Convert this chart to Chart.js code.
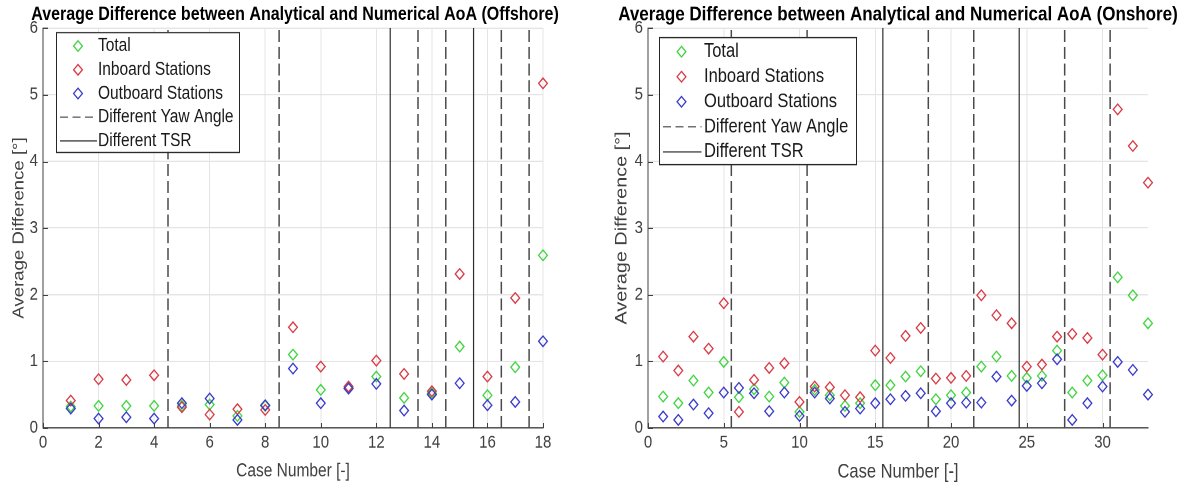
<!DOCTYPE html>
<html>
<head>
<meta charset="utf-8">
<script src="https://cdn.jsdelivr.net/npm/chart.js@4.4.1/dist/chart.umd.min.js"></script>
<style>
  html, body { margin: 0; padding: 0; background: #fff; }
  body { width: 1192px; height: 489px; position: relative; overflow: hidden; }
  /* the source figure is stretched vertically, so each panel is drawn at 408px and scaled up */
  .panel { position: absolute; top: 0; height: 408px; transform-origin: 0 0; transform: scaleY(1.1985); }
  #left { left: 0; width: 590px; }
  #right { left: 590px; width: 602px; }
</style>
</head>
<body>
<div class="panel" id="left"><canvas id="offshore"></canvas></div>
<div class="panel" id="right"><canvas id="onshore"></canvas></div>
<script>
// values
const offCases = [1, 2, 3, 4, 5, 6, 7, 8, 9, 10, 11, 12, 13, 14, 15, 16, 17, 18];
const offTotal = [0.32, 0.33, 0.33, 0.33, 0.33, 0.35, 0.18, 0.33, 1.10, 0.57, 0.60, 0.77, 0.45, 0.52, 1.22, 0.49, 0.91, 2.59];
const offInboard = [0.41, 0.73, 0.72, 0.79, 0.31, 0.20, 0.28, 0.27, 1.51, 0.92, 0.62, 1.01, 0.81, 0.55, 2.31, 0.77, 1.95, 5.17];
const offOutboard = [0.29, 0.14, 0.16, 0.14, 0.37, 0.44, 0.12, 0.34, 0.89, 0.37, 0.59, 0.66, 0.26, 0.50, 0.67, 0.34, 0.39, 1.30];
const offYawLines = [4.5, 8.5, 13.5, 14.5, 16.5, 17.5];
const offTsrLines = [12.5, 15.5];

const onCases = [1, 2, 3, 4, 5, 6, 7, 8, 9, 10, 11, 12, 13, 14, 15, 16, 17, 18, 19, 20, 21, 22, 23, 24, 25, 26, 27, 28, 29, 30, 31, 32, 33];
const onTotal = [0.47, 0.37, 0.71, 0.53, 0.99, 0.46, 0.58, 0.47, 0.68, 0.24, 0.57, 0.49, 0.33, 0.37, 0.64, 0.64, 0.77, 0.85, 0.43, 0.49, 0.53, 0.92, 1.07, 0.78, 0.75, 0.78, 1.16, 0.53, 0.71, 0.79, 2.26, 1.99, 1.57];
const onInboard = [1.07, 0.86, 1.37, 1.19, 1.87, 0.24, 0.72, 0.90, 0.97, 0.39, 0.62, 0.61, 0.49, 0.46, 1.16, 1.05, 1.38, 1.50, 0.74, 0.75, 0.78, 1.99, 1.69, 1.57, 0.92, 0.95, 1.37, 1.41, 1.35, 1.10, 4.78, 4.23, 3.68];
const onOutboard = [0.17, 0.12, 0.35, 0.22, 0.53, 0.60, 0.52, 0.25, 0.53, 0.18, 0.53, 0.44, 0.24, 0.29, 0.37, 0.43, 0.48, 0.52, 0.25, 0.37, 0.38, 0.38, 0.77, 0.41, 0.63, 0.67, 1.03, 0.12, 0.37, 0.62, 0.99, 0.87, 0.50];
const onYawLines = [5.5, 10.5, 18.5, 21.5, 27.5, 30.5];
const onTsrLines = [15.5, 24.5];

const yMin = 0, yMax = 6;

const FONT = '"Liberation Sans", Arial, Helvetica, sans-serif';
Chart.defaults.font.family = FONT;
Chart.defaults.color = '#404040';

const GREEN = '#3fd43f', RED = '#d93a45', BLUE = '#3a3acc';

function toPoints(xs, ys) {
  return xs.map((x, i) => ({x: x, y: ys[i]}));
}

// each boundary is one vertical segment, nulls break the line between them
function boundaryPoints(xs) {
  const pts = [];
  xs.forEach(x => { pts.push({x: x, y: yMin}, {x: x, y: yMax}, {x: x, y: null}); });
  return pts;
}

function markerSet(label, pts, color, order) {
  return {
    label: label,
    data: pts,
    showLine: false,
    clip: false,
    pointStyle: 'rectRot',
    pointRadius: 4.4,
    pointHoverRadius: 4.4,
    pointBorderWidth: 1.2,
    pointBorderColor: color,
    borderColor: color,
    pointBackgroundColor: 'rgba(0,0,0,0)',
    order: order
  };
}

function lineSet(label, pts, dashed) {
  return {
    label: label,
    data: pts,
    showLine: true,
    spanGaps: false,
    pointRadius: 0,
    borderColor: dashed ? '#4a4a4a' : '#2e2e2e',
    borderWidth: dashed ? 1.5 : 1.2,
    borderDash: dashed ? [10, 4] : [],
    order: 0
  };
}

// short inward tick marks like the matlab axes
const innerTicks = {
  id: 'innerTicks',
  afterDatasetsDraw(chart) {
    const ctx = chart.ctx;
    const a = chart.chartArea;
    const xs = chart.scales.x, ys = chart.scales.y;
    ctx.save();
    ctx.strokeStyle = '#404040';
    ctx.lineWidth = 1;
    ctx.beginPath();
    xs.ticks.forEach(t => {
      const px = Math.round(xs.getPixelForValue(t.value)) + 0.5;
      ctx.moveTo(px, a.bottom);
      ctx.lineTo(px, a.bottom - 4);
    });
    ys.ticks.forEach(t => {
      const py = Math.round(ys.getPixelForValue(t.value)) + 0.5;
      ctx.moveTo(a.left, py);
      ctx.lineTo(a.left + 5, py);
    });
    ctx.stroke();
    ctx.restore();
  }
};

// legend drawn inside the plot, white box over grid and lines
const boxLegend = {
  id: 'boxLegend',
  afterDatasetsDraw(chart, args, o) {
    const ctx = chart.ctx;
    const a = chart.chartArea;
    const x0 = a.left + o.dx, y0 = a.top + o.dy;
    ctx.save();
    ctx.fillStyle = '#fff';
    ctx.fillRect(x0, y0, o.w, o.h);
    ctx.strokeStyle = '#262626';
    ctx.lineWidth = 1;
    ctx.strokeRect(x0 + 0.5, y0 + 0.5, o.w, o.h);
    ctx.font = o.fontSize + 'px ' + FONT;
    ctx.textBaseline = 'middle';
    chart.data.datasets.forEach((ds, i) => {
      const y = y0 + o.firstRow + i * o.rowH;
      ctx.strokeStyle = ds.borderColor;
      if (ds.showLine) {
        ctx.lineWidth = 1;
        ctx.setLineDash(ds.borderDash.length ? [8, 4.5] : []);
        ctx.beginPath();
        ctx.moveTo(x0 + o.lineX0, y);
        ctx.lineTo(x0 + o.lineX1, y);
        ctx.stroke();
        ctx.setLineDash([]);
      } else {
        const cx = x0 + o.markerX, r = 4.4;
        ctx.lineWidth = 1.2;
        ctx.beginPath();
        ctx.moveTo(cx, y - r);
        ctx.lineTo(cx + r, y);
        ctx.lineTo(cx, y + r);
        ctx.lineTo(cx - r, y);
        ctx.closePath();
        ctx.stroke();
      }
      ctx.fillStyle = '#1a1a1a';
      ctx.fillText(ds.label, x0 + o.textX, y);
    });
    ctx.restore();
  }
};

function makeChart(id, s) {
  return new Chart(document.getElementById(id), {
    type: 'scatter',
    data: {
      datasets: [
        markerSet('Total', toPoints(s.cases, s.total), GREEN, 3),
        markerSet('Inboard Stations', toPoints(s.cases, s.inboard), RED, 2),
        markerSet('Outboard Stations', toPoints(s.cases, s.outboard), BLUE, 1),
        lineSet('Different Yaw Angle', boundaryPoints(s.yaw), true),
        lineSet('Different TSR', boundaryPoints(s.tsr), false)
      ]
    },
    options: {
      responsive: true,
      maintainAspectRatio: false,
      devicePixelRatio: 2,
      animation: false,
      layout: { padding: { left: s.padLeft, right: 0, top: 0, bottom: 0 } },
      plugins: {
        legend: { display: false },
        tooltip: { enabled: false },
        title: {
          display: true,
          text: s.title,
          color: '#000',
          font: { size: s.titleSize, weight: 'bold' },
          padding: { top: s.titlePadTop, bottom: s.titlePadBottom }
        },
        boxLegend: s.legend
      },
      scales: {
        x: {
          type: 'linear',
          min: 0,
          max: s.xMax,
          afterFit: sc => { sc.height = 51; },
          ticks: { stepSize: s.xStep, includeBounds: false, padding: 3.5, font: { size: 15 }, color: '#404040' },
          grid: { color: '#e4e4e4', drawTicks: false },
          border: { color: '#404040', width: 1 },
          title: { display: true, text: 'Case Number [-]', font: { size: s.labelSize }, color: '#404040', padding: { top: 0, bottom: s.xTitlePad } }
        },
        y: {
          min: yMin,
          max: yMax,
          afterFit: sc => { sc.width = s.yWidth; },
          ticks: { stepSize: 1, padding: 5, font: { size: 15 }, color: '#404040' },
          grid: { color: '#e4e4e4', drawTicks: false },
          border: { color: '#404040', width: 1 },
          title: { display: true, text: 'Average Difference [°]', font: { size: s.labelSize }, color: '#404040', padding: { top: s.yTitlePad, bottom: 0 } }
        },
        // empty right-hand margin (the figure has no right axis)
        yr: {
          position: 'right',
          min: yMin,
          max: yMax,
          afterFit: sc => { sc.width = s.rightGap; },
          ticks: { display: false },
          grid: { display: false, drawOnChartArea: false },
          border: { display: false }
        }
      }
    },
    plugins: [innerTicks, boxLegend]
  });
}

makeChart('offshore', {
  title: 'Average Difference between Analytical and Numerical AoA (Offshore)',
  cases: offCases, total: offTotal, inboard: offInboard, outboard: offOutboard,
  yaw: offYawLines, tsr: offTsrLines,
  xMax: 18, xStep: 2,
  padLeft: 0, yWidth: 43, rightGap: 47,
  titleSize: 16, titlePadTop: 2.5, titlePadBottom: 1.7,
  labelSize: 15.5, xTitlePad: 5.7, yTitlePad: 9.7,
  legend: { dx: 13, dy: 3.3, w: 183, h: 100, firstRow: 11.7, rowH: 19.8, markerX: 22, textX: 42, lineX0: 4, lineX1: 41, fontSize: 15.5 }
});

makeChart('onshore', {
  title: 'Average Difference between Analytical and Numerical AoA (Onshore)',
  cases: onCases, total: onTotal, inboard: onInboard, outboard: onOutboard,
  yaw: onYawLines, tsr: onTsrLines,
  xMax: 33, xStep: 5,
  padLeft: 14, yWidth: 44, rightGap: 44,
  titleSize: 17, titlePadTop: 1.9, titlePadBottom: 1.1,
  labelSize: 16.5, xTitlePad: 4.3, yTitlePad: 8.1,
  legend: { dx: 11, dy: 7.5, w: 197, h: 106, firstRow: 12.2, rowH: 20.9, markerX: 22.5, textX: 45, lineX0: 4, lineX1: 42.5, fontSize: 16.5 }
});
</script>
</body>
</html>
